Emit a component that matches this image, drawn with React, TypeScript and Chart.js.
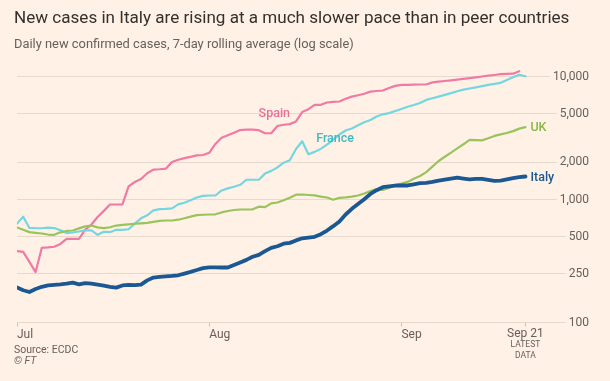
import React, { useEffect, useRef } from "react";
import { Chart, registerables } from "chart.js";

Chart.register(...registerables);

const TITLE = "New cases in Italy are rising at a much slower pace than in peer countries";
const SUBTITLE = "Daily new confirmed cases, 7-day rolling average (log scale)";
const SOURCE = "Source: ECDC";
const CREDIT = "© FT";

const seriesNames = ["Spain", "France", "UK", "Italy"];
const xTickDays = [0, 31, 62, 82];
const xTickLabels = ["Jul", "Aug", "Sep", "Sep 21"];
const latestNote = ["LATEST", "DATA"];
const yTickValues = [100, 250, 500, 1000, 2000, 5000, 10000];

// Daily values, Jul 1 .. Sep 21 (7-day rolling average)
const spain = [
  380, 375, 311, 257, 405, 408, 413, 435, 479, 479,
  479, 570, 626, 720, 808, 911, 911, 911, 1276, 1388,
  1468, 1634, 1748, 1761, 1780, 2019, 2104, 2168, 2221, 2284,
  2301, 2398, 2828, 3179, 3331, 3490, 3671, 3705, 3705, 3663,
  3458, 3458, 3957, 4054, 4100, 4312, 5142, 5429, 5885, 5885,
  6144, 6225, 6260, 6584, 6861, 7043, 7247, 7537, 7622, 7694,
  8063, 8386, 8545, 8561, 8577, 8610, 8610, 8954, 9072, 9192,
  9296, 9418, 9560, 9687, 9833, 10000, 10151, 10285, 10440, 10519,
  10538, 11043, null,
];
const france = [
  638, 724, 587, 584, 584, 590, 586, 562, 533, 539,
  549, 562, 560, 516, 547, 542, 567, 567, 573, 637,
  703, 744, 817, 835, 840, 848, 912, 942, 985, 1038,
  1070, 1078, 1078, 1184, 1231, 1271, 1317, 1447, 1447, 1447,
  1624, 1709, 1821, 1990, 2088, 2576, 2975, 2332, 2439, 2580,
  2791, 3071, 3375, 3637, 3783, 4009, 4247, 4427, 4727, 4926,
  5038, 5240, 5450, 5679, 5863, 6086, 6450, 6661, 6863, 7085,
  7328, 7580, 7825, 7988, 8170, 8354, 8561, 8706, 8887, 9366,
  9851, 10343, 10037,
];
const uk = [
  593, 567, 543, 536, 529, 519, 516, 541, 555, 560,
  582, 605, 615, 594, 586, 595, 614, 621, 628, 635,
  640, 646, 658, 671, 675, 675, 685, 704, 726, 747,
  752, 755, 758, 785, 806, 822, 829, 829, 832, 874,
  867, 931, 945, 985, 1034, 1094, 1098, 1088, 1080, 1054,
  1038, 996, 1032, 1042, 1056, 1078, 1119, 1170, 1215, 1195,
  1240, 1314, 1349, 1390, 1473, 1553, 1671, 1852, 2057, 2225,
  2403, 2604, 2812, 3059, 3042, 3025, 3143, 3287, 3387, 3471,
  3596, 3769, 3880,
];
const italy = [
  193, 183, 177, 187, 195, 200, 202, 204, 207, 211,
  204, 209, 207, 203, 199, 195, 192, 200, 202, 201,
  203, 220, 232, 235, 237, 239, 242, 250, 258, 267,
  277, 281, 281, 280, 280, 294, 308, 323, 342, 355,
  380, 404, 417, 437, 444, 465, 484, 490, 497, 522,
  559, 607, 662, 755, 840, 919, 1006, 1109, 1190, 1259,
  1278, 1295, 1300, 1300, 1329, 1357, 1367, 1390, 1422, 1450,
  1479, 1507, 1479, 1455, 1471, 1471, 1443, 1415, 1423, 1457,
  1493, 1518, 1538,
];

// Inline label anchors (day index, value); null = at end of line
const labelAnchorDays = [41.5, 51.3, null, null];
const labelAnchorValues = [5000, 3110, null, null];

const dayIndex = italy.map((_, i) => i);

const FONT = "Roboto, 'Noto Sans', sans-serif";
const BG = "#FFF1E5";
const GRID = "#E6D9CE";
const TICK = "#CFC3B8";
const MUTED = "#66605C";
const DARK = "#33302E";
const lineColors = ["#F07AA3", "#75D6E0", "#99C45C", "#1B5793"];
const textColors = ["#EA6F99", "#3FB9C2", "#8AB547", "#1B5793"];
const lineWidths = [2.2, 2.2, 2.2, 3.8];
const drawOrder = [3, 2, 1, 0];
const seriesData = [spain, france, uk, italy];

const fmt = (v: number) => Number(v).toLocaleString("en-US");

function fitSize(ctx: CanvasRenderingContext2D, text: string, font: (s: number) => string, target: number) {
  ctx.font = font(20);
  const w = ctx.measureText(text).width;
  return (20 * target) / w;
}

export default function App() {
  const ref = useRef<HTMLCanvasElement>(null);

  useEffect(() => {
    const canvas = ref.current!;
    const Y_PAD = 3;

    const ftPlugin = {
      id: "ftText",
      beforeDatasetsDraw(chart: any) {
        const { ctx, chartArea } = chart;
        const ys = chart.scales.y;
        ctx.save();
        ctx.font = `12px ${FONT}`;
        const widths = yTickValues.map((v) => ctx.measureText(fmt(v)).width);
        const widest = Math.max(...widths);
        const labelRight = ys.left + Y_PAD + widest;
        ctx.strokeStyle = GRID;
        ctx.lineWidth = 1;
        yTickValues.forEach((v, i) => {
          const py = Math.round(ys.getPixelForValue(v) - 0.5) + 0.5;
          ctx.beginPath();
          ctx.moveTo(chartArea.right, py);
          ctx.lineTo(labelRight - widths[i] - 2, py);
          ctx.stroke();
        });
        ctx.restore();
      },
      afterDatasetsDraw(chart: any) {
        const { ctx } = chart;
        const xs = chart.scales.x;
        const ys = chart.scales.y;
        ctx.save();
        ctx.font = `500 12.5px ${FONT}`;
        ctx.textBaseline = "middle";
        seriesNames.forEach((name, i) => {
          ctx.fillStyle = textColors[i];
          const d = labelAnchorDays[i];
          if (d !== null) {
            ctx.textAlign = "center";
            ctx.fillText(name, xs.getPixelForValue(d), ys.getPixelForValue(labelAnchorValues[i] as number));
          } else {
            const data = seriesData[i];
            let last = data.length - 1;
            while (last > 0 && data[last] == null) last--;
            ctx.textAlign = "left";
            ctx.fillText(name, xs.getPixelForValue(last) + 5, ys.getPixelForValue(data[last] as number) + 1);
          }
        });
        ctx.restore();
      },
      afterDraw(chart: any) {
        const { ctx } = chart;
        const xs = chart.scales.x;
        ctx.save();
        ctx.textAlign = "left";
        ctx.textBaseline = "alphabetic";
        // Title
        const tFont = (s: number) => `400 ${s}px ${FONT}`;
        ctx.font = tFont(fitSize(ctx, TITLE, tFont, 556));
        ctx.fillStyle = DARK;
        ctx.fillText(TITLE, 14, 22.7);
        // Subtitle
        const sFont = (s: number) => `400 ${s}px ${FONT}`;
        ctx.font = sFont(fitSize(ctx, SUBTITLE, sFont, 340));
        ctx.fillStyle = MUTED;
        ctx.fillText(SUBTITLE, 14, 47.7);
        // Source
        ctx.font = `400 10.5px ${FONT}`;
        ctx.fillText(SOURCE, 14, 352.7);
        ctx.font = `italic 400 10.5px ${FONT}`;
        ctx.fillText(CREDIT, 14, 364.3);
        // Last tick label and note
        const lx = xs.getPixelForValue(xTickDays[3]);
        ctx.textAlign = "center";
        ctx.font = `400 12px ${FONT}`;
        ctx.fillText(xTickLabels[3], lx, 337);
        ctx.font = `400 8.5px ${FONT}`;
        ctx.fillText(latestNote[0], lx, 347.2);
        ctx.fillText(latestNote[1], lx, 357.6);
        ctx.restore();
      },
    };

    const chart = new Chart(canvas, {
      type: "line",
      data: {
        labels: dayIndex,
        datasets: seriesNames.map((name, i) => ({
          label: name,
          data: seriesData[i],
          borderColor: lineColors[i],
          backgroundColor: lineColors[i],
          borderWidth: lineWidths[i],
          pointRadius: 0,
          tension: 0,
          borderJoinStyle: "round" as const,
          borderCapStyle: "round" as const,
          spanGaps: false,
          order: drawOrder[i],
        })),
      },
      options: {
        animation: false,
        responsive: false,
        maintainAspectRatio: false,
        devicePixelRatio: 1,
        layout: { padding: { left: 17, right: 21, top: 60, bottom: 38.5 } },
        plugins: {
          legend: { display: false },
          tooltip: { enabled: false },
          title: { display: false },
        },
        scales: {
          x: {
            type: "linear",
            bounds: "data",
            min: 0,
            max: 85.8,
            afterBuildTicks: (s: any) => {
              s.ticks = xTickDays.map((v) => ({ value: v }));
            },
            afterFit: (s: any) => {
              s.height = 20;
            },
            grid: {
              drawOnChartArea: false,
              drawTicks: true,
              tickLength: 4,
              color: TICK,
              lineWidth: 1,
            },
            border: { display: false },
            ticks: {
              align: "start",
              autoSkip: false,
              maxRotation: 0,
              padding: 2,
              color: MUTED,
              font: { family: FONT, size: 12, lineHeight: 1 },
              callback: (_v: any, i: number) => (i < 3 ? xTickLabels[i] : ""),
            },
          },
          y: {
            type: "logarithmic",
            position: "right",
            bounds: "data",
            min: 100,
            max: 13620,
            afterBuildTicks: (s: any) => {
              s.ticks = yTickValues.map((v) => ({ value: v }));
            },
            afterFit: (s: any) => {
              s.width = 40;
            },
            grid: { color: GRID, drawTicks: false, lineWidth: 1 },
            border: { display: false },
            ticks: {
              crossAlign: "far",
              padding: Y_PAD,
              autoSkip: false,
              color: MUTED,
              font: { family: FONT, size: 12 },
              callback: (v: any) => fmt(Number(v)),
            },
          },
        },
      },
      plugins: [ftPlugin],
    } as any);

    return () => chart.destroy();
  }, []);

  return (
    <div style={{ position: "fixed", left: 0, top: 0, width: 610, height: 381, background: BG }}>
      <canvas ref={ref} width={610} height={381} style={{ display: "block", width: 610, height: 381 }} />
    </div>
  );
}
